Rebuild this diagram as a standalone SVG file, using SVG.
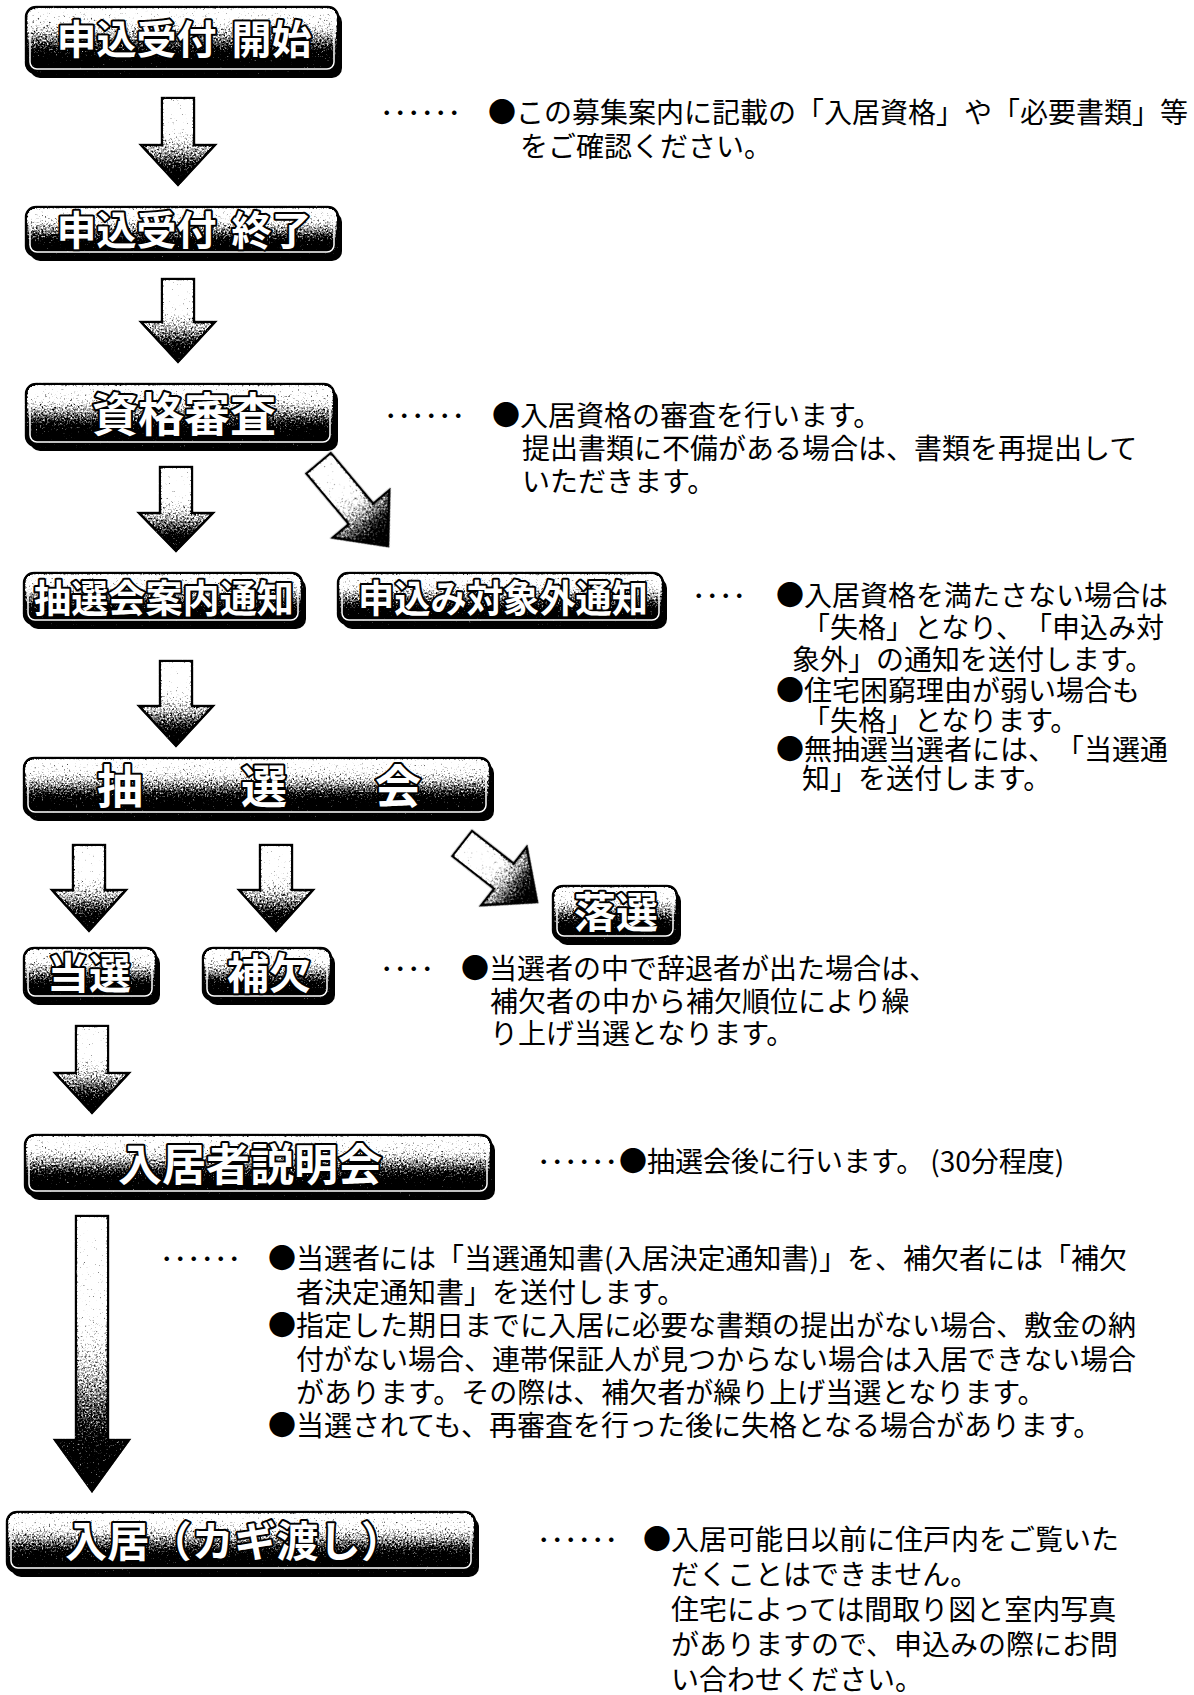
<svg xmlns="http://www.w3.org/2000/svg" width="1194" height="1695" viewBox="0 0 1194 1695">
<style>
.bx{fill:url(#boxg);stroke:#000;stroke-width:2.5;filter:url(#grain)}
.sh{fill:#000}
.in{fill:none;stroke:#fff;stroke-width:1.5}
.bt{font-family:"Noto Sans CJK JP","Noto Sans CJK SC",sans-serif;font-weight:700;fill:#fff;stroke:#000;stroke-width:4;paint-order:stroke;stroke-linejoin:round;text-anchor:middle;text-spacing-trim:space-all}
.ar{fill:url(#arg);stroke:#000;stroke-width:2.5;stroke-linejoin:miter;filter:url(#grain)}
.t{font-family:"Noto Sans CJK JP","Noto Sans CJK SC",sans-serif;font-size:28px;fill:#000;text-spacing-trim:space-all}
.d{font-family:"Noto Sans CJK JP",sans-serif;font-size:27px;fill:#000}
</style>
<defs>
<filter id="grain" color-interpolation-filters="sRGB" x="-5%" y="-5%" width="110%" height="110%">
<feTurbulence type="fractalNoise" baseFrequency="0.55" numOctaves="2" seed="7" result="n"/>
<feColorMatrix in="n" type="matrix" values="0.67 0.67 0.67 0 -0.5  0.67 0.67 0.67 0 -0.5  0.67 0.67 0.67 0 -0.5  0 0 0 0 1" result="g"/>
<feComposite in="SourceGraphic" in2="g" operator="arithmetic" k1="0" k2="1" k3="1" k4="-0.5" result="s"/>
<feComponentTransfer in="s" result="t">
<feFuncR type="linear" slope="2.2" intercept="-0.6"/>
<feFuncG type="linear" slope="2.2" intercept="-0.6"/>
<feFuncB type="linear" slope="2.2" intercept="-0.6"/>
</feComponentTransfer>
<feComposite in="t" in2="SourceAlpha" operator="in"/>
</filter>
<linearGradient id="boxg" x1="0" y1="0" x2="0" y2="1">
<stop offset="0" stop-color="#f4f4f4"/>
<stop offset="0.25" stop-color="#d2d2d2"/>
<stop offset="0.5" stop-color="#7a7a7a"/>
<stop offset="0.7" stop-color="#222"/>
<stop offset="0.85" stop-color="#000"/>
<stop offset="1" stop-color="#000"/>
</linearGradient>
<linearGradient id="arg" x1="0" y1="0" x2="0" y2="1">
<stop offset="0" stop-color="#fff"/>
<stop offset="0.35" stop-color="#f0f0f0"/>
<stop offset="0.6" stop-color="#999"/>
<stop offset="0.85" stop-color="#222"/>
<stop offset="1" stop-color="#111"/>
</linearGradient>
</defs>
<rect width="1194" height="1695" fill="#fff"/>

<g id="connectors">
<path class="ar" d="M162,98H194V145H215L178,185L141,145H162Z"/>
<path class="ar" d="M162,279H194V322H215L178,362L141,322H162Z"/>
<path class="ar" d="M160,467H192V513H213L176,551L139,513H160Z"/>
<path class="ar" transform="translate(388,546) rotate(-40)" d="M-16,-108H16V-42H37L0,0L-37,-42H-16Z"/>
<path class="ar" d="M160,661H192V706H213L176,746L139,706H160Z"/>
<path class="ar" d="M73,845H105V890H126L89,931L52,890H73Z"/>
<path class="ar" d="M260,845H292V890H313L276,931L239,890H260Z"/>
<path class="ar" transform="translate(537,902) rotate(-52)" d="M-16,-95H16V-42H37L0,0L-37,-42H-16Z"/>
<path class="ar" d="M76,1026H108V1073H129L92,1113L55,1073H76Z"/>
<path class="ar" d="M76,1216H108V1440H129L92,1491L55,1440H76Z"/>
</g>

<g id="n1">
<rect class="sh" x="30" y="12" width="312" height="66" rx="10"/>
<rect class="bx" x="26" y="7" width="312" height="66" rx="10"/>
<rect class="in" x="30" y="11" width="304" height="58" rx="7"/>
<text class="bt" x="184" y="54" font-size="40">申込受付<tspan dx="6"> 開始</tspan></text>
</g>
<g id="n2">
<rect class="sh" x="30" y="212" width="312" height="49" rx="10"/>
<rect class="bx" x="26" y="207" width="312" height="49" rx="10"/>
<rect class="in" x="30" y="211" width="304" height="41" rx="7"/>
<text class="bt" x="184" y="245" font-size="40">申込受付<tspan dx="6"> 終了</tspan></text>
</g>
<g id="n3">
<rect class="sh" x="30" y="389" width="308" height="62" rx="10"/>
<rect class="bx" x="26" y="384" width="308" height="62" rx="10"/>
<rect class="in" x="30" y="388" width="300" height="54" rx="7"/>
<text class="bt" x="184" y="431" font-size="46">資格審査</text>
</g>
<g id="n4">
<rect class="sh" x="28" y="578" width="278" height="51" rx="10"/>
<rect class="bx" x="24" y="573" width="278" height="51" rx="10"/>
<rect class="in" x="28" y="577" width="270" height="43" rx="7"/>
<text class="bt" x="164" y="612" font-size="38" textLength="260" lengthAdjust="spacingAndGlyphs">抽選会案内通知</text>
</g>
<g id="n5">
<rect class="sh" x="342" y="578" width="325" height="51" rx="10"/>
<rect class="bx" x="338" y="573" width="325" height="51" rx="10"/>
<rect class="in" x="342" y="577" width="317" height="43" rx="7"/>
<text class="bt" x="503" y="612" font-size="38" textLength="290" lengthAdjust="spacingAndGlyphs">申込み対象外通知</text>
</g>
<g id="n6">
<rect class="sh" x="28" y="763" width="466" height="58" rx="10"/>
<rect class="bx" x="24" y="758" width="466" height="58" rx="10"/>
<rect class="in" x="28" y="762" width="458" height="50" rx="7"/>
<text class="bt" x="120 264 398" y="803" font-size="46">抽選会</text>
</g>
<g id="n7">
<rect class="sh" x="557" y="891" width="124" height="54" rx="10"/>
<rect class="bx" x="553" y="886" width="124" height="54" rx="10"/>
<rect class="in" x="557" y="890" width="116" height="46" rx="7"/>
<text class="bt" x="616" y="928" font-size="42">落選</text>
</g>
<g id="n8">
<rect class="sh" x="28" y="953" width="132" height="52" rx="10"/>
<rect class="bx" x="24" y="948" width="132" height="52" rx="10"/>
<rect class="in" x="28" y="952" width="124" height="44" rx="7"/>
<text class="bt" x="89" y="989" font-size="42">当選</text>
</g>
<g id="n9">
<rect class="sh" x="207" y="953" width="128" height="52" rx="10"/>
<rect class="bx" x="203" y="948" width="128" height="52" rx="10"/>
<rect class="in" x="207" y="952" width="120" height="44" rx="7"/>
<text class="bt" x="269" y="989" font-size="42">補欠</text>
</g>
<g id="n10">
<rect class="sh" x="29" y="1140" width="466" height="60" rx="10"/>
<rect class="bx" x="25" y="1135" width="466" height="60" rx="10"/>
<rect class="in" x="29" y="1139" width="458" height="52" rx="7"/>
<text class="bt" x="250" y="1181" font-size="44">入居者説明会</text>
</g>
<g id="n11">
<rect class="sh" x="11" y="1517" width="468" height="60" rx="10"/>
<rect class="bx" x="7" y="1512" width="468" height="60" rx="10"/>
<rect class="in" x="11" y="1516" width="460" height="52" rx="7"/>
<text class="bt" x="234" y="1557" font-size="42" textLength="338" lengthAdjust="spacing">入居（カギ渡し）</text>
</g>

<g id="notes">
<text class="d" x="380" y="123">･･････</text>
<text class="t" x="488" y="123">●この募集案内に記載の「入居資格」や「必要書類」等</text>
<text class="t" x="520" y="157">をご確認ください。</text>

<text class="d" x="384" y="426">･･････</text>
<text class="t" x="492" y="426">●入居資格の審査を行います。</text>
<text class="t" x="522" y="459">提出書類に不備がある場合は、書類を再提出して</text>
<text class="t" x="522" y="492">いただきます。</text>

<text class="d" x="692" y="606">････</text>
<text class="t" font-size="26" x="776" y="606">●入居資格を満たさない場合は</text>
<text class="t" font-size="26" x="802" y="638">「失格」となり、「申込み対</text>
<text class="t" font-size="26" x="792" y="670">象外」の通知を送付します。</text>
<text class="t" font-size="26" x="776" y="701">●住宅困窮理由が弱い場合も</text>
<text class="t" font-size="26" x="802" y="731">「失格」となります。</text>
<text class="t" font-size="26" x="776" y="760">●無抽選当選者には、「当選通</text>
<text class="t" font-size="26" x="802" y="789">知」を送付します。</text>

<text class="d" x="380" y="979">････</text>
<text class="t" x="461" y="979">●当選者の中で辞退者が出た場合は、</text>
<text class="t" x="490" y="1012">補欠者の中から補欠順位により繰</text>
<text class="t" x="490" y="1044">り上げ当選となります。</text>

<text class="d" x="537" y="1172">･･････</text>
<text class="t" x="619" y="1172">●抽選会後に行います。<tspan dx="6">(30分程度)</tspan></text>

<text class="d" x="160" y="1269">･･････</text>
<text class="t" x="268" y="1269" font-size="27.4">●当選者には「当選通知書(入居決定通知書)」を、補欠者には「補欠</text>
<text class="t" x="296" y="1303" font-size="27.4">者決定通知書」を送付します。</text>
<text class="t" x="268" y="1336" font-size="27.4">●指定した期日までに入居に必要な書類の提出がない場合、敷金の納</text>
<text class="t" x="296" y="1370" font-size="27.4">付がない場合、連帯保証人が見つからない場合は入居できない場合</text>
<text class="t" x="296" y="1403" font-size="27.4">があります。その際は、補欠者が繰り上げ当選となります。</text>
<text class="t" x="268" y="1436" font-size="27.4">●当選されても、再審査を行った後に失格となる場合があります。</text>

<text class="d" x="537" y="1550">･･････</text>
<text class="t" x="643" y="1550">●入居可能日以前に住戸内をご覧いた</text>
<text class="t" x="671" y="1585">だくことはできません。</text>
<text class="t" x="671" y="1620">住宅によっては間取り図と室内写真</text>
<text class="t" x="671" y="1655">がありますので、申込みの際にお問</text>
<text class="t" x="671" y="1690">い合わせください。</text>
</g>
</svg>
